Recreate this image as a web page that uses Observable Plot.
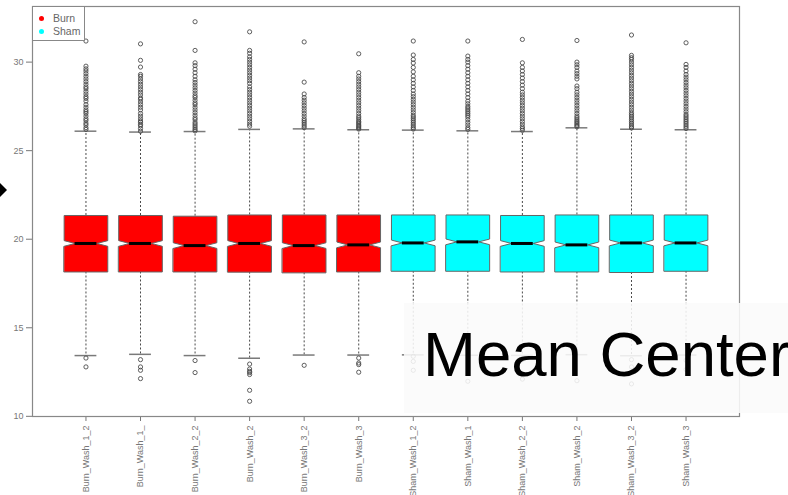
<!DOCTYPE html>
<html>
<head>
<meta charset="utf-8">
<script src="https://cdn.jsdelivr.net/npm/d3@7"></script>
<script src="https://cdn.jsdelivr.net/npm/@observablehq/plot@0.6"></script>
<style>
  body { margin: 0; background: #fff; font-family: "Liberation Sans", Arial, sans-serif; }
  #wrap { position: relative; width: 788px; height: 495px; overflow: hidden; background: #fff; }
  #wrap svg { position: absolute; left: 0; top: 0; }
  .legend { position: absolute; left: 32px; top: 6px; width: 53px; height: 35px; border: 1px solid #888; background: #fff; box-sizing: border-box; }
  .legend .item { position: absolute; left: 0; font-size: 10.5px; color: #666; line-height: 12px; }
  .legend .dot { position: absolute; left: 6px; width: 5px; height: 5px; border-radius: 50%; }
  .legend .lab { position: absolute; left: 20px; white-space: nowrap; }
  .pointer { position: absolute; left: 0; top: 183px; width: 0; height: 0;
             border-top: 7px solid transparent; border-bottom: 7px solid transparent; border-left: 7.5px solid #000; }
  .banner { position: absolute; left: 404px; top: 303px; width: 384px; height: 110px; background: rgba(250,250,250,0.88); }
  .banner-text { position: absolute; left: 423px; top: 323px; font-size: 63.5px; line-height: 63.5px; color: #000; white-space: nowrap; }
</style>
</head>
<body>
<div id="wrap"></div>
<script>
// Samples, in plotting order, and the treatment group of each
const samples = ["Burn_Wash_1_2", "Burn_Wash_1_", "Burn_Wash_2_2", "Burn_Wash_2", "Burn_Wash_3_2", "Burn_Wash_3",
                 "Sham_Wash_1_2", "Sham_Wash_1", "Sham_Wash_2_2", "Sham_Wash_2", "Sham_Wash_3_2", "Sham_Wash_3"];
const groups = ["Burn", "Burn", "Burn", "Burn", "Burn", "Burn", "Sham", "Sham", "Sham", "Sham", "Sham", "Sham"];
const groupNames = ["Burn", "Sham"];
const groupColors = ["#ff0000", "#00ffff"];

// Box statistics (mean-centred log intensities)
const q1      = [18.15, 18.15, 18.15, 18.14, 18.10, 18.15, 18.19, 18.19, 18.15, 18.15, 18.12, 18.19];
const median  = [19.76, 19.76, 19.64, 19.76, 19.64, 19.68, 19.79, 19.85, 19.76, 19.68, 19.79, 19.79];
const q3      = [21.34, 21.34, 21.30, 21.37, 21.37, 21.37, 21.37, 21.37, 21.34, 21.37, 21.37, 21.37];
const lowCap  = [13.43, 13.50, 13.43, 13.28, 13.46, 13.46, 13.47, 13.45, 13.44, 13.48, 13.42, 13.46];
const highCap = [26.10, 26.05, 26.08, 26.20, 26.23, 26.18, 26.16, 26.12, 26.08, 26.29, 26.21, 26.18];
const notchHalf = [0.16, 0.16, 0.16, 0.16, 0.16, 0.16, 0.16, 0.16, 0.16, 0.16, 0.16, 0.16];

// Points beyond the whiskers
const highOutliers = [
  [26.2, 26.3, 26.45, 26.55, 26.7, 26.8, 26.95, 27.1, 27.2, 27.3, 27.45, 27.6, 27.8, 27.95, 28.05, 28.2, 28.35, 28.5, 28.6, 28.75, 28.9, 29.05, 29.2, 29.35, 29.5, 29.62, 29.77, 31.19],
  [26.1, 26.25, 26.4, 26.48, 26.6, 26.67, 26.8, 26.95, 27.1, 27.3, 27.45, 27.6, 27.75, 27.9, 27.98, 28.15, 28.3, 28.45, 28.6, 28.75, 28.9, 29.05, 29.2, 29.3, 29.72, 30.1, 31.03],
  [26.12, 26.2, 26.3, 26.4, 26.5, 26.6, 26.75, 26.85, 27.0, 27.15, 27.3, 27.45, 27.6, 27.7, 27.85, 28.0, 28.1, 28.25, 28.4, 28.55, 28.7, 28.85, 29.0, 29.2, 29.4, 29.6, 29.8, 29.96, 30.66, 32.28],
  [26.38, 26.5, 26.65, 26.8, 26.95, 27.1, 27.25, 27.4, 27.55, 27.7, 27.85, 28.0, 28.15, 28.3, 28.45, 28.6, 28.8, 28.95, 29.1, 29.25, 29.4, 29.55, 29.7, 29.85, 30.0, 30.15, 30.3, 30.5, 30.66, 31.71],
  [26.3, 26.4, 26.5, 26.6, 26.7, 26.8, 26.95, 27.1, 27.25, 27.4, 27.55, 27.7, 27.85, 28.0, 28.2, 28.87, 31.14],
  [26.22, 26.28, 26.35, 26.42, 26.5, 26.58, 26.65, 26.75, 26.85, 26.95, 27.1, 27.25, 27.4, 27.55, 27.7, 27.85, 28.0, 28.15, 28.3, 28.45, 28.6, 28.75, 28.9, 29.05, 29.2, 29.4, 30.47],
  [26.22, 26.3, 26.4, 26.5, 26.6, 26.7, 26.8, 26.9, 27.0, 27.15, 27.3, 27.45, 27.6, 27.75, 27.9, 28.05, 28.2, 28.4, 28.6, 28.8, 29.0, 29.2, 29.45, 29.7, 29.95, 30.15, 30.4, 31.19],
  [26.2, 26.3, 26.45, 26.6, 26.75, 26.9, 27.0, 27.1, 27.2, 27.3, 27.4, 27.5, 27.65, 27.8, 28.0, 28.2, 28.4, 28.6, 28.8, 29.0, 29.2, 29.4, 29.6, 29.8, 30.0, 30.15, 30.34, 31.19],
  [26.15, 26.25, 26.35, 26.5, 26.65, 26.8, 26.95, 27.1, 27.25, 27.4, 27.55, 27.7, 27.85, 28.0, 28.15, 28.3, 28.5, 28.7, 28.9, 29.1, 29.3, 29.5, 29.7, 29.96, 31.28],
  [26.35, 26.42, 26.5, 26.58, 26.66, 26.75, 26.85, 26.95, 27.1, 27.25, 27.4, 27.55, 27.7, 27.85, 28.0, 28.15, 28.3, 28.5, 28.65, 29.05, 29.2, 29.35, 29.5, 29.7, 29.85, 30.0, 31.22],
  [26.28, 26.35, 26.45, 26.55, 26.65, 26.75, 26.85, 26.95, 27.05, 27.15, 27.3, 27.45, 27.6, 27.75, 27.9, 28.05, 28.2, 28.35, 28.5, 28.65, 28.8, 28.95, 29.1, 29.25, 29.4, 29.55, 29.7, 29.85, 30.0, 30.15, 30.25, 30.38, 31.53],
  [26.25, 26.35, 26.45, 26.55, 26.65, 26.75, 26.85, 26.95, 27.05, 27.2, 27.35, 27.5, 27.65, 27.8, 27.95, 28.1, 28.25, 28.4, 28.55, 28.7, 28.85, 29.0, 29.15, 29.3, 29.5, 29.7, 29.87, 31.09]
];
const lowOutliers = [
  [13.29, 12.79],
  [13.2, 12.79, 12.6, 12.13],
  [13.15, 12.47],
  [12.95, 12.67, 12.54, 12.47, 12.36, 11.47, 10.85],
  [12.88],
  [13.29, 13.01, 12.92, 12.49],
  [13.39, 13.1, 12.6],
  [11.98],
  [13.2, 12.1],
  [12.01],
  [13.2, 12.79, 11.83],
  [13.16, 12.64]
];

// Axis ticks
const yTicks = [10, 15, 20, 25, 30];

// ---- derived mark data ----
const halfWidth = 0.4;            // boxwex 0.8
const capHalf = halfWidth / 2;    // staple width

// Notched box outline, one closed polygon per sample
const outline = samples.flatMap((s, k) => {
  const x = k + 1, n = notchHalf[k], w = halfWidth;
  return [
    [x - w, q1[k]], [x + w, q1[k]], [x + w, median[k] - n], [x + w / 2, median[k]], [x + w, median[k] + n],
    [x + w, q3[k]], [x - w, q3[k]], [x - w, median[k] + n], [x - w / 2, median[k]], [x - w, median[k] - n]
  ].map(([px, py]) => ({sample: s, group: groups[k], px, py}));
});

const stats = samples.map((s, k) => ({
  sample: s, group: groups[k], x: k + 1,
  q1: q1[k], median: median[k], q3: q3[k], lo: lowCap[k], hi: highCap[k]
}));

const outliers = samples.flatMap((s, k) =>
  highOutliers[k].concat(lowOutliers[k]).map(v => ({x: k + 1, y: v}))
);

const boxMarks = groupNames.map((g, gi) =>
  Plot.line(outline.filter(d => d.group === g), {
    x: "px", y: "py", z: "sample", curve: "linear-closed",
    fill: groupColors[gi], stroke: "#666", strokeWidth: 1
  })
);

const chart = Plot.plot({
  width: 788,
  height: 495,
  marginLeft: 32,
  marginTop: 6,
  marginRight: 49,
  marginBottom: 79,
  style: {fontFamily: '"Liberation Sans", Arial, sans-serif', background: "transparent"},
  x: {type: "linear", domain: [0.02, 12.98]},
  y: {type: "linear", domain: [9.99, 33.14]},
  marks: [
    // whiskers
    Plot.ruleX(stats, {x: "x", y1: "q3", y2: "hi", stroke: "#4a4a4a", strokeWidth: 1, strokeDasharray: "2,2"}),
    Plot.ruleX(stats, {x: "x", y1: "q1", y2: "lo", stroke: "#4a4a4a", strokeWidth: 1, strokeDasharray: "2,2"}),
    // staples
    Plot.ruleY(stats, {y: "hi", x1: d => d.x - capHalf, x2: d => d.x + capHalf, stroke: "#7a7a7a", strokeWidth: 1.5}),
    Plot.ruleY(stats, {y: "lo", x1: d => d.x - capHalf, x2: d => d.x + capHalf, stroke: "#7a7a7a", strokeWidth: 1.5}),
    // outliers
    Plot.dot(outliers, {x: "x", y: "y", r: 2.1, stroke: "#444", strokeWidth: 1, fill: "none", strokeOpacity: 0.85}),
    // boxes
    ...boxMarks,
    // medians
    Plot.ruleY(stats, {y: "median", x1: d => d.x - halfWidth / 2, x2: d => d.x + halfWidth / 2, stroke: "#000", strokeWidth: 3}),
    // axes and frame
    Plot.axisY({ticks: yTicks, tickSize: 6, tickPadding: 3, fontSize: 9, color: "#777"}),
    Plot.axisX({
      ticks: d3.range(1, samples.length + 1),
      tickFormat: i => samples[i - 1],
      tickRotate: -90, tickSize: 5, tickPadding: 4, fontSize: 9, color: "#777"
    }),
    Plot.frame({stroke: "#888", strokeWidth: 1.2})
  ]
});

const wrap = document.getElementById("wrap");
wrap.appendChild(chart);

// legend in the top-left corner of the plot region
const legend = document.createElement("div");
legend.className = "legend";
groupNames.forEach((g, gi) => {
  const item = document.createElement("div");
  item.className = "item";
  item.style.top = (gi === 0 ? 5 : 18) + "px";
  const dot = document.createElement("span");
  dot.className = "dot";
  dot.style.background = groupColors[gi];
  dot.style.top = "3.5px";
  const lab = document.createElement("span");
  lab.className = "lab";
  lab.textContent = g;
  lab.style.top = "0px";
  item.appendChild(dot);
  item.appendChild(lab);
  legend.appendChild(item);
});
wrap.appendChild(legend);

// slide pointer and caption banner
const pointer = document.createElement("div");
pointer.className = "pointer";
wrap.appendChild(pointer);

const banner = document.createElement("div");
banner.className = "banner";
wrap.appendChild(banner);

const bannerText = document.createElement("div");
bannerText.className = "banner-text";
bannerText.textContent = "Mean Center";
wrap.appendChild(bannerText);
</script>
</body>
</html>
